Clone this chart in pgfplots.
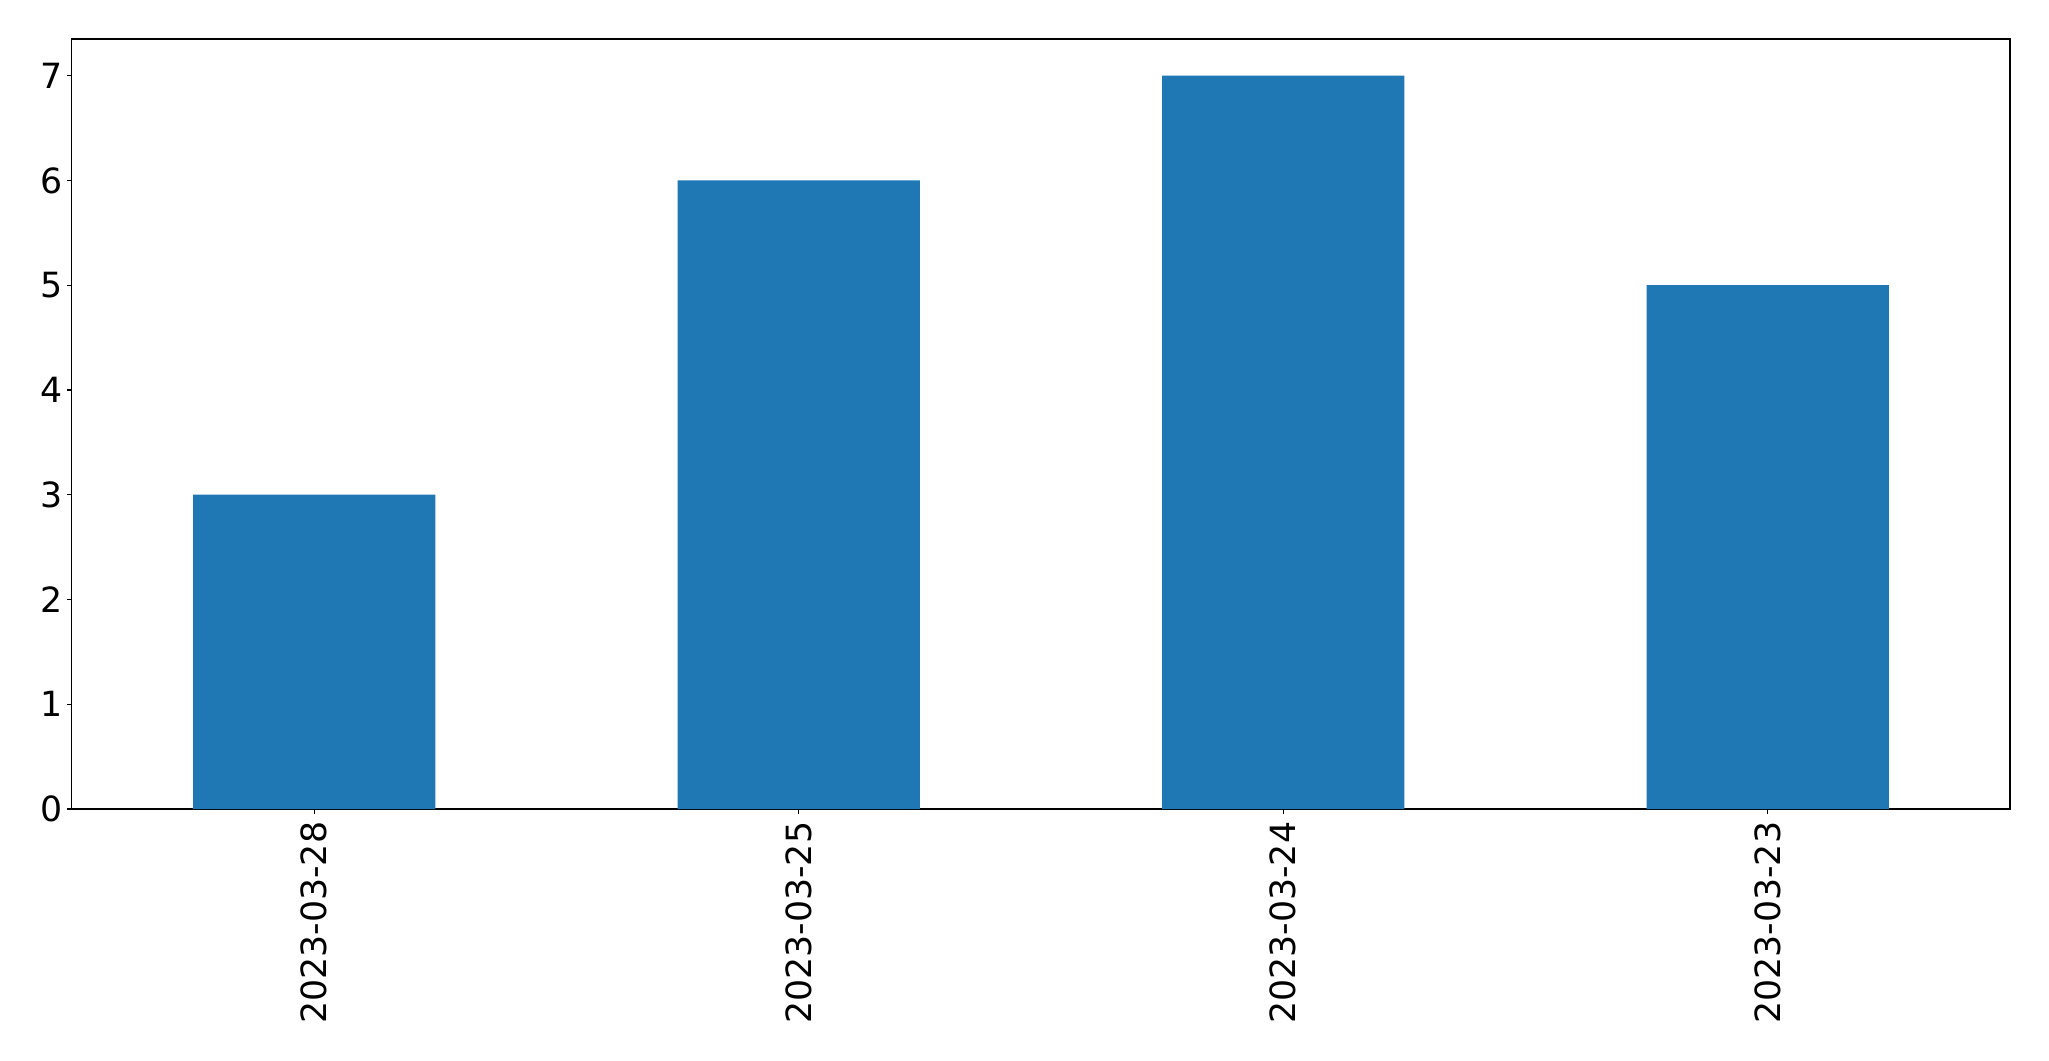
\documentclass[border=0pt]{standalone}
\usepackage{fontspec}
\setmainfont{DejaVu Sans}
\usepackage{pgfplots}
\pgfplotsset{compat=1.18}
\definecolor{mplblue}{HTML}{1F77B4}
\begin{document}
\begin{tikzpicture}
\begin{axis}[
    name=ax,
    scale only axis,
    width=1395.4pt, height=554.4pt,
    xmin=-0.5, xmax=3.5,
    ymin=0, ymax=7.35,
    xtick=data,
    xticklabels={2023-03-28,2023-03-25,2023-03-24,2023-03-23},
    ytick={0,1,2,3,4,5,6,7},
    tick label style={font=\fontsize{25}{29}\selectfont},
    x tick label style={rotate=90, anchor=east, inner sep=5.5pt},
    y tick label style={inner sep=3pt},
    /pgf/number format/assume math mode=true,
    tick align=outside, tick pos=left,
    major tick length=3.5pt,
    axis line style={line width=0.8pt},
    every tick/.style={black, line width=0.8pt},
    ybar, bar width=0.5,
]
\addplot[fill=mplblue, draw=none] coordinates {(0,3) (1,6) (2,7) (3,5)};
\end{axis}
\pgfresetboundingbox
\path ([shift={(-51.8pt,-181.4pt)}]ax.south west) rectangle ([shift={(28.1pt,28.1pt)}]ax.north east);
\end{tikzpicture}
\end{document}
